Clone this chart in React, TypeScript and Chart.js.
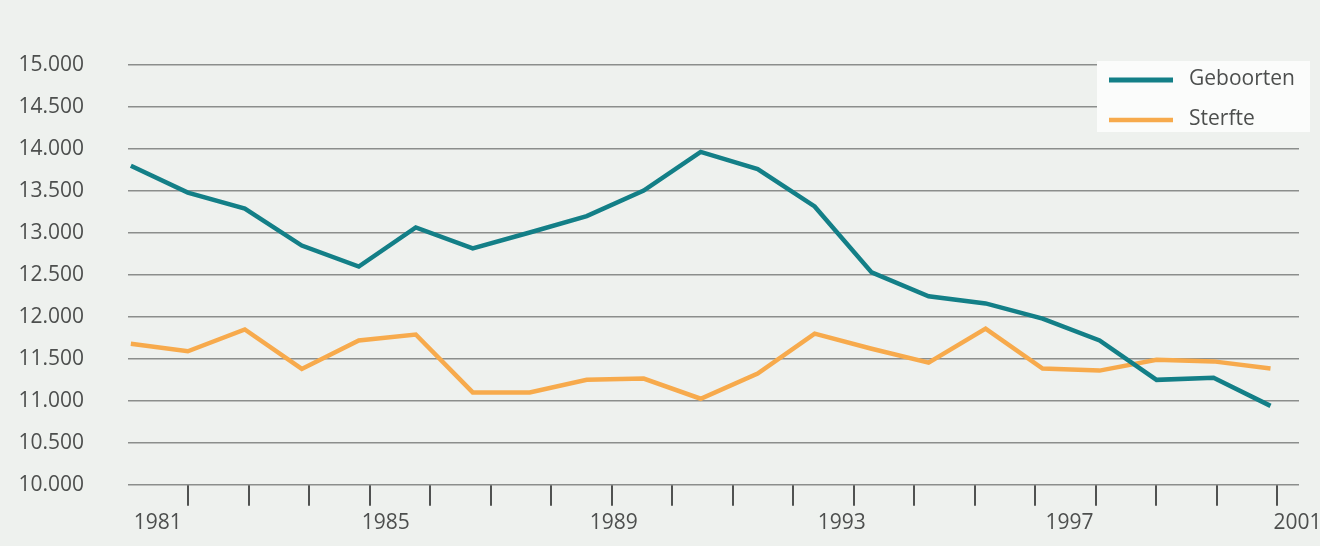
import { useEffect, useRef } from "react";
import { Chart, registerables } from "chart.js";
Chart.register(...registerables);

const years = [1981, 1982, 1983, 1984, 1985, 1986, 1987, 1988, 1989, 1990, 1991, 1992, 1993, 1994, 1995, 1996, 1997, 1998, 1999, 2000, 2001];
const geboorten = [13800, 13480, 13290, 12850, 12600, 13065, 12815, 13005, 13200, 13505, 13965, 13760, 13315, 12530, 12245, 12160, 11980, 11720, 11250, 11275, 10940];
const sterfte = [11680, 11590, 11850, 11380, 11720, 11790, 11100, 11100, 11250, 11265, 11025, 11325, 11800, 11620, 11455, 11860, 11385, 11360, 11490, 11470, 11385];
const xTickYears = [1981, 1985, 1989, 1993, 1997, 2001];
const seriesLabels = ["Geboorten", "Sterfte"];
const yMin = 10000;
const yMax = 15000;
const yStep = 500;

const FONT = '"Open Sans", "Noto Sans", sans-serif';
const TEXT = "#4d4f4e";
const BG = "#eef1ee";

const fmt = (v: number) => {
  const t = Math.floor(v / 1000);
  const r = Math.round(v % 1000);
  return t > 0 ? `${t}.${String(r).padStart(3, "0")}` : String(r);
};

const bgPlugin = {
  id: "bg",
  beforeDraw(chart: any) {
    const { ctx, width, height } = chart;
    ctx.save();
    ctx.fillStyle = BG;
    ctx.fillRect(0, 0, width, height);
    ctx.restore();
  },
};

const legendBox = {
  id: "legendBox",
  afterDraw(chart: any) {
    const { ctx, chartArea } = chart;
    const x0 = chartArea.right - 202;
    const y0 = chartArea.top - 4;
    ctx.save();
    ctx.fillStyle = "#fbfcfb";
    ctx.fillRect(x0, y0, 213, 71);
    chart.data.datasets.forEach((ds: any, i: number) => {
      const cy = y0 + 19 + i * 40;
      ctx.strokeStyle = ds.borderColor;
      ctx.lineWidth = i === 0 ? 5 : 4.5;
      ctx.beginPath();
      ctx.moveTo(x0 + 12, cy);
      ctx.lineTo(x0 + 76, cy);
      ctx.stroke();
      ctx.fillStyle = TEXT;
      ctx.font = `21px ${FONT}`;
      ctx.textBaseline = "middle";
      ctx.textAlign = "left";
      ctx.fillText(ds.label, x0 + 92, cy - 1);
    });
    ctx.restore();
  },
};

export default function App() {
  const ref = useRef<HTMLCanvasElement>(null);
  useEffect(() => {
    let chart: Chart | null = null;
    let cancelled = false;
    const make = () => {
      if (cancelled || !ref.current) return;
      chart = new Chart(ref.current, {
        type: "line",
        data: {
          datasets: [
            {
              label: seriesLabels[0],
              data: years.map((y, i) => ({ x: y, y: geboorten[i] })),
              xAxisID: "x",
              yAxisID: "y",
              borderColor: "#137f87",
              borderWidth: 4.5,
              pointRadius: 0,
              tension: 0,
              fill: false,
            },
            {
              label: seriesLabels[1],
              data: years.map((y, i) => ({ x: y, y: sterfte[i] })),
              xAxisID: "x",
              yAxisID: "y",
              borderColor: "#f7aa4c",
              borderWidth: 4.5,
              pointRadius: 0,
              tension: 0,
              fill: false,
            },
          ],
        },
        options: {
          responsive: false,
          animation: false,
          layout: { padding: { left: 0, right: 21, top: 65, bottom: 5 } },
          plugins: { legend: { display: false }, tooltip: { enabled: false } },
          scales: {
            x: {
              type: "linear",
              position: "bottom",
              weight: 1,
              min: 1980.95,
              max: 2001.5,
              afterBuildTicks: (s: any) => {
                s.ticks = xTickYears.map((v) => ({ value: v }));
              },
              grid: { display: false, drawTicks: false },
              border: { display: false },
              ticks: {
                callback: (v: any) => String(v),
                font: { family: FONT, size: 21 },
                color: TEXT,
                padding: 5,
                labelOffset: 27,
                maxRotation: 0,
                autoSkip: false,
              },
            },
            xt: {
              type: "linear",
              position: "bottom",
              weight: 0,
              min: 0,
              max: 19.36,
              afterBuildTicks: (s: any) => {
                s.ticks = Array.from({ length: 19 }, (_, k) => ({ value: k + 1 }));
              },
              grid: {
                display: true,
                drawOnChartArea: false,
                drawTicks: true,
                tickLength: 21,
                color: "#505251",
                lineWidth: 2,
              },
              border: { display: false },
              ticks: { display: false },
            },
            y: {
              type: "linear",
              min: yMin,
              max: yMax,
              afterFit: (s: any) => {
                s.width = 128;
              },
              grid: {
                drawTicks: false,
                color: "#8b8e8c",
                lineWidth: 1.5,
              },
              border: { display: false },
              ticks: {
                stepSize: yStep,
                callback: (v: any) => fmt(Number(v)),
                font: { family: FONT, size: 21 },
                color: TEXT,
                padding: 44,
              },
            },
          },
        },
        plugins: [bgPlugin, legendBox],
      } as any);
    };
    const fontsReady = (document as any).fonts?.load ? (document as any).fonts.load(`21px "Open Sans"`).catch(() => null) : Promise.resolve();
    Promise.resolve(fontsReady).then(make);
    return () => {
      cancelled = true;
      if (chart) chart.destroy();
    };
  }, []);
  return (
    <div style={{ position: "fixed", left: 0, top: 0, width: 1320, height: 546, background: BG }}>
      <canvas ref={ref} width={1320} height={546} style={{ display: "block", width: 1320, height: 546 }} />
    </div>
  );
}
